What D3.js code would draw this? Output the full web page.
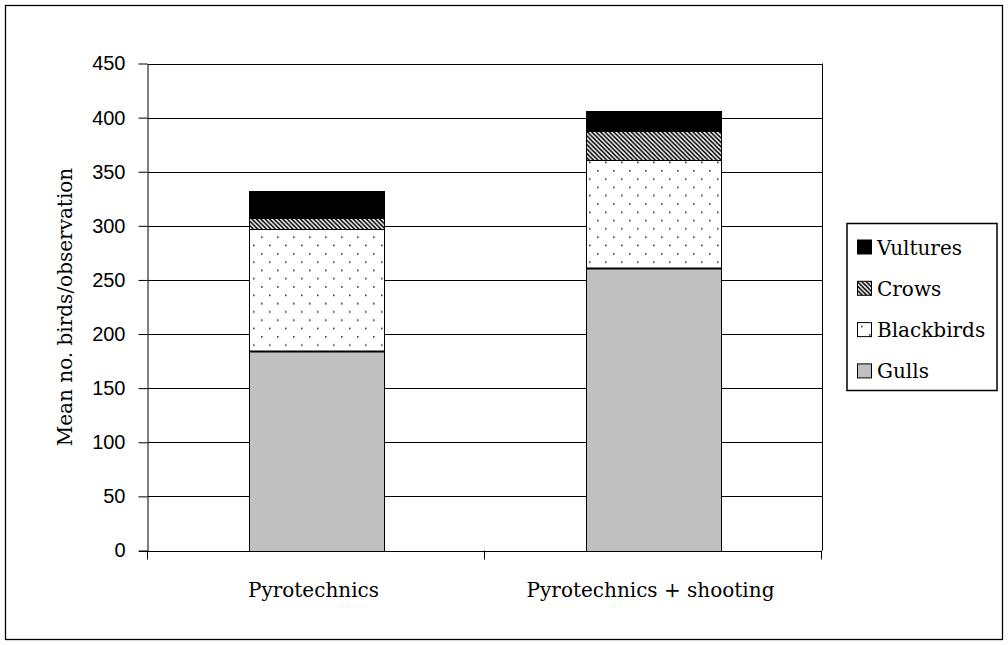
<!DOCTYPE html>
<html>
<head>
<meta charset="utf-8">
<script src="https://cdn.jsdelivr.net/npm/d3@7"></script>
<style>
  body { margin: 0; background: #fff; }
</style>
</head>
<body>
<script>
(function () {
    // Data
    const categories = ["Pyrotechnics", "Pyrotechnics + shooting"];
    const seriesNames = ["Gulls", "Blackbirds", "Crows", "Vultures"];
    const gulls = [184, 261];
    const blackbirds = [113, 100];
    const crows = [10, 27];
    const vultures = [25, 18];
    const yTicks = [0, 50, 100, 150, 200, 250, 300, 350, 400, 450];

    const W = 1008, H = 645;
    const plot = { left: 148, right: 822, top: 63.5, bottom: 550.5 };

    const svg = d3.select("body")
        .append("svg")
        .attr("width", W)
        .attr("height", H);

    // Patterns for the bar fills
    const defs = svg.append("defs");

    const dots = defs.append("pattern")
        .attr("id", "dots")
        .attr("patternUnits", "userSpaceOnUse")
        .attr("width", 16)
        .attr("height", 16.6);
    dots.append("rect").attr("width", 16).attr("height", 16.6).attr("fill", "#fff");
    dots.append("rect").attr("x", 5).attr("y", 4).attr("width", 1.6).attr("height", 1.6).attr("fill", "#333");
    dots.append("rect").attr("x", 13).attr("y", 12.3).attr("width", 1.6).attr("height", 1.6).attr("fill", "#333");

    const hatch = defs.append("pattern")
        .attr("id", "hatch")
        .attr("patternUnits", "userSpaceOnUse")
        .attr("width", 4.4)
        .attr("height", 4.4);
    hatch.append("rect").attr("width", 4.4).attr("height", 4.4).attr("fill", "#000");
    hatch.append("path")
        .attr("d", "M-1,-1 L5.4,5.4 M-1,3.4 L1,5.4 M3.4,-1 L5.4,1")
        .attr("stroke", "#fff")
        .attr("stroke-width", 1.5);

    const fills = {
        "Gulls": "#c0c0c0",
        "Blackbirds": "url(#dots)",
        "Crows": "url(#hatch)",
        "Vultures": "#000"
    };

    // Outer chart border
    svg.append("rect")
        .attr("x", 5.5).attr("y", 5.5)
        .attr("width", 997).attr("height", 634)
        .attr("fill", "none")
        .attr("stroke", "#000")
        .attr("stroke-width", 1.3);

    // Scales
    const x = d3.scaleBand()
        .domain(categories)
        .range([plot.left, plot.right])
        .paddingInner(0.6)
        .paddingOuter(0.3);

    const y = d3.scaleLinear()
        .domain([0, 450])
        .range([plot.bottom, plot.top]);

    // Gridlines
    svg.append("g")
        .selectAll("line")
        .data(yTicks)
        .join("line")
        .attr("x1", plot.left)
        .attr("x2", plot.right)
        .attr("y1", d => Math.round(y(d)) + 0.5)
        .attr("y2", d => Math.round(y(d)) + 0.5)
        .attr("stroke", "#000")
        .attr("stroke-width", 1);

    // Right border of the plot area
    svg.append("line")
        .attr("x1", plot.right + 0.5).attr("x2", plot.right + 0.5)
        .attr("y1", y(450)).attr("y2", y(0))
        .attr("stroke", "#000");

    // Stacked bars
    const table = categories.map((c, i) => ({
        category: c,
        Gulls: gulls[i],
        Blackbirds: blackbirds[i],
        Crows: crows[i],
        Vultures: vultures[i]
    }));
    const stacked = d3.stack().keys(seriesNames)(table);

    svg.append("g")
        .selectAll("g")
        .data(stacked)
        .join("g")
        .attr("fill", d => fills[d.key])
        .selectAll("rect")
        .data(d => d)
        .join("rect")
        .attr("x", d => Math.round(x(d.data.category)) + 0.5)
        .attr("width", Math.round(x.bandwidth()))
        .attr("y", d => Math.round(y(d[1])) + 0.5)
        .attr("height", d => Math.round(y(d[0])) - Math.round(y(d[1])))
        .attr("stroke", "#000")
        .attr("stroke-width", 1);

    // Thicker separation line on top of the gulls segment
    svg.append("g")
        .selectAll("line")
        .data(stacked[0])
        .join("line")
        .attr("x1", d => x(d.data.category))
        .attr("x2", d => x(d.data.category) + x.bandwidth() + 1)
        .attr("y1", d => Math.round(y(d[1])) + 0.5)
        .attr("y2", d => Math.round(y(d[1])) + 0.5)
        .attr("stroke", "#000")
        .attr("stroke-width", 2);

    // Y axis
    const yAxis = d3.axisLeft(y)
        .tickValues(yTicks)
        .tickSize(9)
        .tickPadding(13)
        .tickSizeOuter(0);
    const gy = svg.append("g")
        .attr("transform", `translate(${plot.left - 0.5}, 0)`)
        .call(yAxis);
    gy.select(".domain").attr("stroke", "#000");
    gy.selectAll(".tick line").attr("stroke", "#000");
    gy.selectAll(".tick text")
        .attr("font-family", "'Liberation Sans', Arial, sans-serif")
        .attr("font-size", 20)
        .attr("fill", "#000");

    // X axis: line plus ticks at the band boundaries
    svg.append("line")
        .attr("x1", plot.left - 9).attr("x2", plot.right)
        .attr("y1", Math.round(y(0)) + 0.5).attr("y2", Math.round(y(0)) + 0.5)
        .attr("stroke", "#000");

    const bounds = [x.range()[0], (x.range()[0] + x.range()[1]) / 2, x.range()[1]];
    svg.append("g")
        .selectAll("line")
        .data(bounds)
        .join("line")
        .attr("x1", d => Math.round(d) - 0.5)
        .attr("x2", d => Math.round(d) - 0.5)
        .attr("y1", y(0))
        .attr("y2", y(0) + 9)
        .attr("stroke", "#000");

    svg.append("g")
        .selectAll("text")
        .data(categories)
        .join("text")
        .attr("x", d => x(d) + x.bandwidth() / 2 - 3)
        .attr("y", 597)
        .attr("text-anchor", "middle")
        .attr("font-family", "'DejaVu Serif', serif")
        .attr("font-size", 20)
        .attr("fill", "#000")
        .text(d => d);

    // Y axis title
    svg.append("text")
        .attr("transform", "translate(72, 307) rotate(-90)")
        .attr("text-anchor", "middle")
        .attr("font-family", "'DejaVu Serif', serif")
        .attr("font-size", 20)
        .attr("fill", "#000")
        .text("Mean no. birds/observation");

    // Legend
    const legend = svg.append("g");
    legend.append("rect")
        .attr("x", 847).attr("y", 223.5)
        .attr("width", 150).attr("height", 167)
        .attr("fill", "#fff")
        .attr("stroke", "#000")
        .attr("stroke-width", 1.5);

    const legendOrder = seriesNames.slice().reverse();
    const items = legend.selectAll("g.item")
        .data(legendOrder)
        .join("g")
        .attr("class", "item")
        .attr("transform", (d, i) => `translate(0, ${247.5 + i * 41.3})`);

    items.append("rect")
        .attr("x", 857.5).attr("y", -7.5)
        .attr("width", 14).attr("height", 14)
        .attr("fill", d => fills[d])
        .attr("stroke", "#000");

    items.append("text")
        .attr("x", 877)
        .attr("y", 7)
        .attr("font-family", "'DejaVu Serif', serif")
        .attr("font-size", 20)
        .attr("fill", "#000")
        .text(d => d);
})();
</script>
</body>
</html>
